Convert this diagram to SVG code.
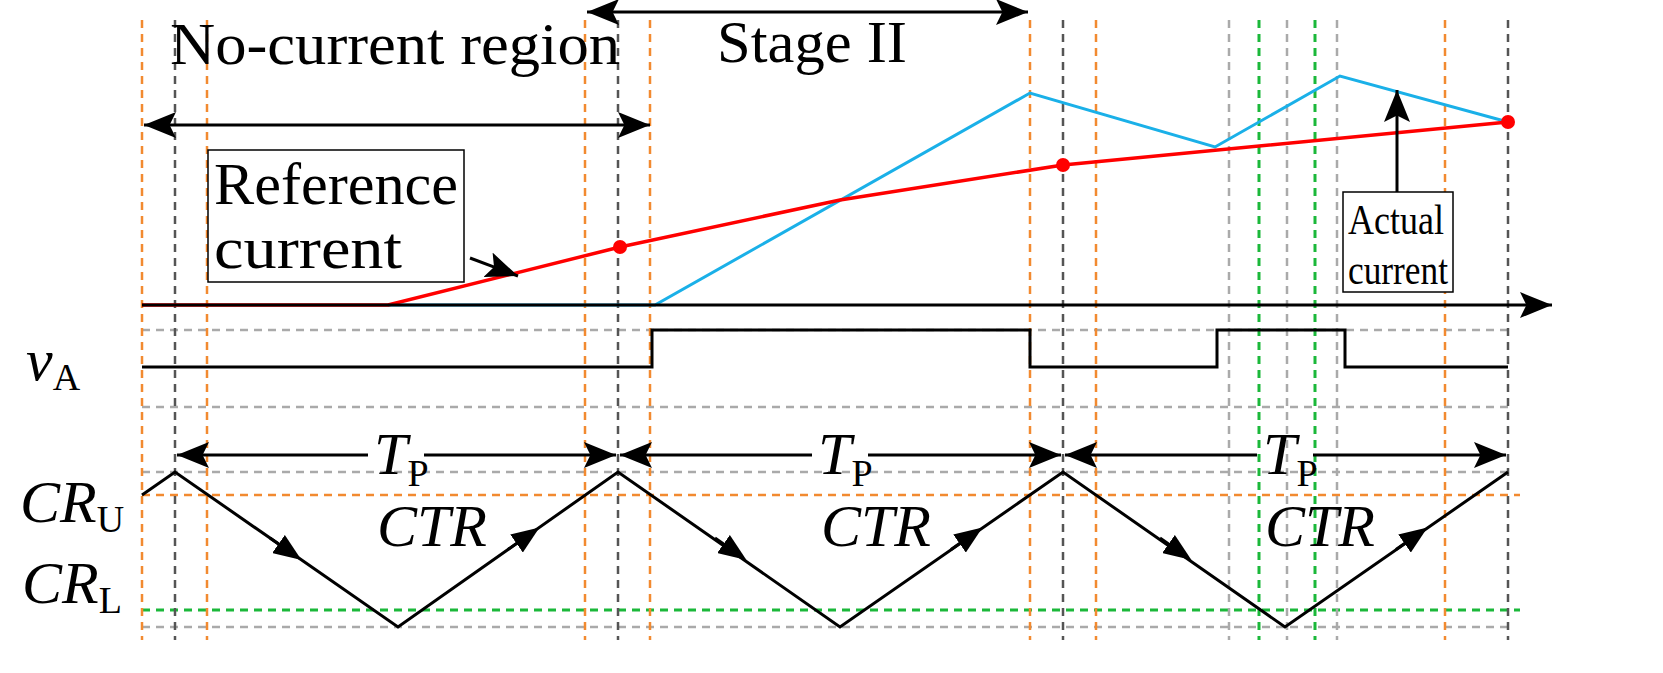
<svg xmlns="http://www.w3.org/2000/svg" width="1663" height="673" viewBox="0 0 1663 673">
<style>
.t{font-family:"Liberation Serif",serif;fill:#000}
.i{font-style:italic}
.o{stroke:#f28a30;stroke-width:2.5;stroke-dasharray:8 6;fill:none}
.g{stroke:#555;stroke-width:2.5;stroke-dasharray:8 6;fill:none}
.lg{stroke:#aaa;stroke-width:2.5;stroke-dasharray:8 6;fill:none}
.gr{stroke:#1bb83a;stroke-width:3;stroke-dasharray:8 6;fill:none}
.k{stroke:#000;stroke-width:3;fill:none}
.da{marker-start:url(#a);marker-end:url(#a)}
.sa{marker-start:url(#a)}
.ea{marker-end:url(#a)}
.ma{marker-end:url(#m)}
</style>
<defs>
<marker id="a" viewBox="0 0 10 10" refX="10" refY="5" markerWidth="32" markerHeight="26" orient="auto-start-reverse" markerUnits="userSpaceOnUse" preserveAspectRatio="none"><path d="M0,0 L10,5 L0,10 L2,5 Z" fill="#000"/></marker>
<marker id="m" viewBox="0 0 10 10" refX="5" refY="5" markerWidth="28" markerHeight="22" orient="auto" markerUnits="userSpaceOnUse" preserveAspectRatio="none"><path d="M0,0 L10,5 L0,10 Z" fill="#000"/></marker>
</defs>
<g id="grid">
<path class="lg" d="M142 330H1508M142 407H1508M142 472H1508M142 627H1508"/>
<path class="o" d="M142 495H1520"/>
<path class="gr" d="M142 610H1520"/>
<path class="o" d="M142 20V640M207 20V640M585 20V640M650 20V640M1030 20V640M1096 20V640M1445 20V640"/>
<path class="g" d="M175 20V640M618 20V640M1063 20V640M1508 20V640"/>
<path class="lg" d="M1229 20V640M1287 20V640M1337 20V640"/>
<path class="gr" d="M1259 20V640M1315 20V640"/>
</g>
<g id="waves">
<path d="M388 305H655L1030 93L1215 147L1340 76L1508 122" stroke="#1ab0e8" stroke-width="3" fill="none"/>
<path d="M142 305H388L620 247L840 200L1063 165L1508 122" stroke="#f00" stroke-width="3.5" fill="none"/>
<circle cx="620" cy="247" r="7" fill="#f00"/><circle cx="1063" cy="165" r="7" fill="#f00"/><circle cx="1508" cy="122" r="7" fill="#f00"/>
<path class="k" d="M142 367H652V330H1030V367H1217V330H1345V367H1508"/>
</g>
<g id="connectors">
<path class="k ea" d="M142 305H1552"/>
<path class="k da" d="M587 12H1028"/>
<path class="k da" d="M144 125H650"/>
<path class="k ea" d="M470 258L518 276"/>
<path class="k ea" d="M1397 198V90"/>
<path class="k sa" d="M177 455H368"/><path class="k ea" d="M424 455H616"/>
<path class="k sa" d="M620 455H812"/><path class="k ea" d="M868 455H1061"/>
<path class="k sa" d="M1065 455H1257"/><path class="k ea" d="M1313 455H1506"/>
<path class="k" d="M142 495L175 472L398 627L618 472L840 627L1063 472L1285 627L1508 472"/>
<path class="k ma" d="M270 538L290 552"/><path class="k ma" d="M715 538L735 552"/><path class="k ma" d="M1160 538L1180 552"/>
<path class="k ma" d="M508 549.5L528 535.5"/><path class="k ma" d="M951 549.5L971 535.5"/><path class="k ma" d="M1396 549.5L1416 535.5"/>
</g>
<g id="labels">
<text class="t" x="170" y="64" font-size="60" textLength="450" lengthAdjust="spacingAndGlyphs">No-current region</text>
<text class="t" x="717" y="62" font-size="60" textLength="190" lengthAdjust="spacingAndGlyphs">Stage II</text>
<g id="refbox"><rect x="208" y="150" width="256" height="132" fill="#fff" stroke="#000" stroke-width="1.5"/>
<text class="t" x="214" y="204" font-size="60" textLength="244" lengthAdjust="spacingAndGlyphs">Reference</text><text class="t" x="214" y="268" font-size="60" textLength="188" lengthAdjust="spacingAndGlyphs">current</text></g>
<g id="actbox"><rect x="1343" y="192" width="110" height="100" fill="#fff" stroke="#000" stroke-width="1.5"/>
<text class="t" x="1348" y="234" font-size="42" textLength="96" lengthAdjust="spacingAndGlyphs">Actual</text><text class="t" x="1348" y="284" font-size="42" textLength="100" lengthAdjust="spacingAndGlyphs">current</text></g>
<text class="t i" x="26" y="380" font-size="60">v<tspan font-style="normal" font-size="38" dy="10">A</tspan></text>
<text class="t i" x="20" y="522" font-size="60">CR<tspan font-style="normal" font-size="38" dy="10">U</tspan></text>
<text class="t i" x="22" y="603" font-size="60">CR<tspan font-style="normal" font-size="38" dy="10">L</tspan></text>
<text class="t i" x="374" y="474" font-size="60">T<tspan font-style="normal" font-size="38" dy="12">P</tspan></text>
<text class="t i" x="818" y="474" font-size="60">T<tspan font-style="normal" font-size="38" dy="12">P</tspan></text>
<text class="t i" x="1263" y="474" font-size="60">T<tspan font-style="normal" font-size="38" dy="12">P</tspan></text>
<text class="t i" x="432" y="546" font-size="60" text-anchor="middle">CTR</text>
<text class="t i" x="876" y="546" font-size="60" text-anchor="middle">CTR</text>
<text class="t i" x="1320" y="546" font-size="60" text-anchor="middle">CTR</text>
</g>
</svg>
